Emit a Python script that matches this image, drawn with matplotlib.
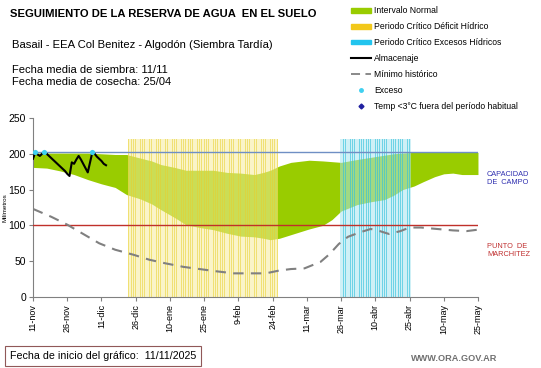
import numpy as np
import matplotlib.pyplot as plt
from matplotlib.lines import Line2D
from matplotlib.patches import Patch

plt.rcParams['font.family'] = ['Liberation Sans', 'DejaVu Sans']

# days counted from 11-nov
tick_days = list(range(0, 196, 15))
tick_labels = ['11-nov', '26-nov', '11-dic', '26-dic', '10-ene', '25-ene', '9-feb',
               '24-feb', '11-mar', '26-mar', '10-abr', '25-abr', '10-may', '25-may']

band_days = [0, 6, 12, 18, 24, 30, 36, 41, 47, 52, 56, 62, 67, 73, 79, 85, 91, 97, 101,
             104, 108, 113, 121, 127, 131, 135, 142, 148, 154, 158, 162, 167, 171, 176,
             180, 184, 188, 195]
band_upper = [201, 201, 201, 201, 201, 200, 199, 199, 194, 190, 185, 181, 177, 177, 177,
              174, 173, 171, 174, 177, 183, 188, 191, 190, 189, 188, 192, 195, 198, 200,
              201, 202, 202, 202, 202, 202, 202, 202]
band_lower = [181, 180, 176, 171, 164, 158, 153, 143, 137, 130, 122, 111, 101, 97, 94,
              89, 85, 84, 82, 80, 82, 87, 95, 100, 108, 120, 129, 133, 136, 142, 150, 155,
              161, 168, 172, 173, 171, 171]

min_days = [0, 8, 15, 22, 29, 36, 44, 51, 58, 66, 73, 80, 88, 95, 102, 108, 113, 119, 126,
            130, 134, 138, 143, 148, 152, 156, 161, 165, 170, 177, 184, 190, 195]
min_hist = [123, 112, 101, 88, 75, 66, 59, 52, 47, 42, 39, 36, 33, 33, 33, 37, 39, 40, 49,
            60, 74, 84, 90, 95, 92, 88, 92, 97, 97, 95, 93, 92, 94]

alm_days = list(range(0, 33))
almacenaje = [193, 202, 199, 197, 200, 202, 200, 197, 194, 191, 188, 185, 182, 179, 176,
              172, 169, 188, 186, 192, 197, 192, 186, 180, 174, 188, 202, 200, 196, 193,
              190, 186, 184]
exceso_days = [1, 5, 26]
exceso_vals = [202, 202, 202]

deficit_days = list(range(42, 108))
exceso_period_days = list(range(135, 166))
periodo_height = 221

capacidad = 202
marchitez = 100

fig = plt.figure(figsize=(5.41, 3.68), dpi=100)
ax = fig.add_axes([0.061, 0.193, 0.8225, 0.4864])

ax.fill_between(band_days, band_lower, band_upper, color='#99cc00', linewidth=0, zorder=1)

# critical periods: pale bars with stronger lines
ax.bar(deficit_days, periodo_height, width=1.0, color='#f6ec9c', alpha=0.55, linewidth=0, zorder=2)
ax.bar(deficit_days, periodo_height, width=0.35, color='#e8d030', alpha=0.55, linewidth=0, zorder=2)
ax.bar(exceso_period_days, periodo_height, width=1.0, color='#a8e4f0', alpha=0.55, linewidth=0, zorder=2)
ax.bar(exceso_period_days, periodo_height, width=0.35, color='#30c0dc', alpha=0.6, linewidth=0, zorder=2)

ax.axhline(capacidad, color='#6f8fc4', linewidth=1.0, zorder=3)
ax.axhline(marchitez, color='#c0302a', linewidth=1.0, zorder=3)

ax.plot(min_days, min_hist, color='#808080', linewidth=1.5, dashes=(5, 3.5), zorder=4)
ax.plot(alm_days, almacenaje, color='black', linewidth=1.5, zorder=5)
ax.scatter(exceso_days, exceso_vals, s=14, color='#40d0f0', zorder=6, linewidths=0)

ax.set_xlim(0, 195)
ax.set_ylim(0, 250)
ax.set_yticks(range(0, 251, 50))
ax.set_xticks(tick_days)
ax.set_xticklabels(tick_labels, rotation=90, fontsize=6.5)
ax.tick_params(axis='y', labelsize=7.5, length=3, color='#808080', pad=2)
ax.tick_params(axis='x', length=3, color='#808080', pad=2)
for s in ['top', 'right']:
    ax.spines[s].set_visible(False)
for s in ['left', 'bottom']:
    ax.spines[s].set_color('#808080')
ax.set_ylabel('Milímetros', fontsize=4.5)
ax.yaxis.set_label_coords(-0.058, 0.5)

fig.text(0.018, 0.962, 'SEGUIMIENTO DE LA RESERVA DE AGUA  EN EL SUELO', fontsize=8.1,
         fontweight='bold', va='center')
fig.text(0.022, 0.877, 'Basail - EEA Col Benitez - Algodón (Siembra Tardía)', fontsize=8.1,
         va='center')
fig.text(0.022, 0.81, 'Fecha media de siembra: 11/11', fontsize=8.0, va='center')
fig.text(0.022, 0.776, 'Fecha media de cosecha: 25/04', fontsize=8.0, va='center')

fig.text(0.9, 0.515, 'CAPACIDAD\nDE  CAMPO', fontsize=5.3, color='#3030b0', va='center',
         linespacing=1.3)
fig.text(0.9, 0.319, 'PUNTO  DE\nMARCHITEZ', fontsize=5.3, color='#c03030', va='center',
         linespacing=1.3)

handles = [Patch(color='#99cc00'), Patch(color='#f2c81a'), Patch(color='#22c4ee'),
           Line2D([], [], color='black', linewidth=1.5),
           Line2D([], [], color='#808080', linewidth=1.3, dashes=(5, 3)),
           Line2D([], [], marker='o', markersize=2.5, color='#40d0f0', linestyle='none'),
           Line2D([], [], marker='D', markersize=2.5, color='#2020a0', linestyle='none')]
labels = ['Intervalo Normal', 'Periodo Crítico Déficit Hídrico',
          'Periodo Crítico Excesos Hídricos', 'Almacenaje', 'Mínimo histórico', 'Exceso',
          'Temp <3°C fuera del período habitual']
fig.legend(handles, labels, loc='upper left', bbox_to_anchor=(0.634, 1.004), frameon=False,
           fontsize=6.2, handlelength=2.4, handleheight=0.5, labelspacing=0.8,
           handletextpad=0.3)

fig.text(0.018, 0.032, 'Fecha de inicio del gráfico:  11/11/2025', fontsize=7.7,
         va='center', bbox=dict(boxstyle='square,pad=0.45', facecolor='white',
                                edgecolor='#905858', linewidth=0.8))
fig.text(0.919, 0.025, 'WWW.ORA.GOV.AR', fontsize=6.6, color='#707070', fontweight='bold',
         ha='right', va='center')

fig.savefig('out.png', dpi=100)
